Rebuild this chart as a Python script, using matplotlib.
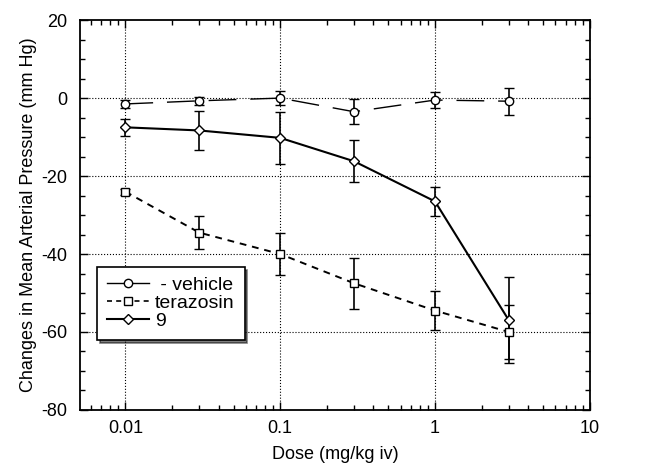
import matplotlib.pyplot as plt
from matplotlib.lines import Line2D
from matplotlib.ticker import MultipleLocator, NullFormatter

plt.rcParams['font.family'] = ['Liberation Sans', 'DejaVu Sans']
plt.rcParams['axes.unicode_minus'] = False

# doses (mg/kg iv)
dose = [0.01, 0.03, 0.1, 0.3, 1, 3]

# changes in mean arterial pressure (mm Hg) and error bars
vehicle = [-1.5, -0.7, 0.0, -3.5, -0.5, -0.8]
vehicle_err = [1.0, 1.0, 1.7, 3.2, 2.0, 3.5]

terazosin = [-24.0, -34.5, -40.0, -47.5, -54.5, -60.0]
terazosin_err = [0.8, 4.3, 5.3, 6.5, 5.0, 7.0]

cmpd9 = [-7.5, -8.3, -10.2, -16.2, -26.5, -57.0]
cmpd9_err = [2.2, 5.0, 6.6, 5.4, 3.7, 11.0]

labels = [' - vehicle', 'terazosin', '9']


def draw_graph():
    fig = plt.figure(figsize=(6.51, 4.68), dpi=100)
    ax = fig.add_axes([0.123, 0.124, 0.783, 0.833])

    kw = dict(color='black', ecolor='black', capsize=3.5, elinewidth=1.2,
              capthick=1.2, markerfacecolor='white', markeredgecolor='black',
              markersize=6, markeredgewidth=1)

    ax.errorbar(dose, vehicle, yerr=vehicle_err, marker='o', lw=1,
                dashes=(20, 10), **kw)
    ax.errorbar(dose, terazosin, yerr=terazosin_err, marker='s', lw=1.4,
                dashes=(3.5, 3), **kw)
    ax.errorbar(dose, cmpd9, yerr=cmpd9_err, marker='D', lw=1.5,
                ls='-', **dict(kw, markersize=5))

    ax.set_xscale('log')
    ax.set_xlim(0.0051, 10)
    ax.set_ylim(-80, 20)
    ax.set_xticks([0.01, 0.1, 1, 10])
    ax.set_xticklabels(['0.01', '0.1', '1', '10'])
    ax.xaxis.set_minor_formatter(NullFormatter())
    ax.yaxis.set_major_locator(MultipleLocator(20))
    ax.yaxis.set_minor_locator(MultipleLocator(5))

    ax.tick_params(which='both', direction='in', top=True, right=True,
                   labelsize=13)
    ax.tick_params(axis='x', pad=7)
    ax.tick_params(axis='y', pad=9)
    ax.tick_params(which='major', length=6, width=1)
    ax.tick_params(which='minor', length=3.5, width=1)

    for xv in [0.01, 0.1, 1]:
        ax.axvline(xv, color='black', ls=':', lw=0.8, zorder=0)
    for yv in [0, -20, -40, -60]:
        ax.axhline(yv, color='black', ls=':', lw=0.8, zorder=0)

    for s in ax.spines.values():
        s.set_linewidth(1.3)

    ax.set_xlabel('Dose (mg/kg iv)', fontsize=13, labelpad=7)
    ax.set_ylabel('Changes in Mean Arterial Pressure (mm Hg)', fontsize=13,
                  labelpad=3)

    handles = [
        Line2D([], [], color='black', lw=1, marker='o', markersize=6,
               markerfacecolor='white'),
        Line2D([], [], color='black', lw=1.2, dashes=(3, 2.5), marker='s',
               markersize=6, markerfacecolor='white'),
        Line2D([], [], color='black', lw=1.5, marker='D', markersize=5,
               markerfacecolor='white'),
    ]
    leg = ax.legend(handles, labels, loc='upper left',
                    bbox_to_anchor=(0.033, 0.367),
                    fontsize=14, frameon=True, fancybox=False,
                    shadow={'color': 'black'}, handlelength=2.2,
                    handletextpad=0.3, borderpad=0.5, labelspacing=0.02,
                    borderaxespad=0)
    leg.get_frame().set_edgecolor('black')
    leg.get_frame().set_linewidth(1.2)
    leg.get_frame().set_alpha(1)

    fig.savefig('out.png', dpi=100)


if __name__ == '__main__':
    draw_graph()
